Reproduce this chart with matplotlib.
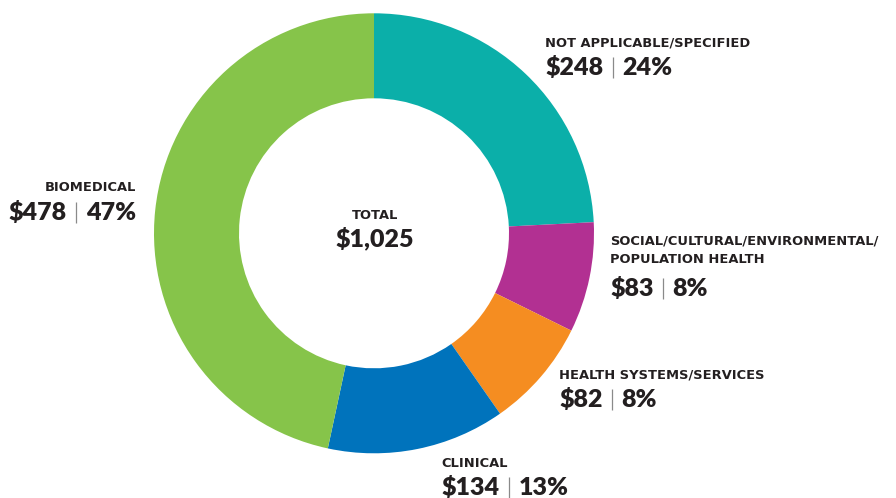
import matplotlib
matplotlib.use("Agg")
import matplotlib.pyplot as plt

# 数据
categories = ["NOT APPLICABLE/SPECIFIED",
              "SOCIAL/CULTURAL/ENVIRONMENTAL/\nPOPULATION HEALTH",
              "HEALTH SYSTEMS/SERVICES",
              "CLINICAL",
              "BIOMEDICAL"]
amounts = [248, 83, 82, 134, 478]
percents = [24, 8, 8, 13, 47]
colors = ["#0BAFA9", "#B23092", "#F58D21", "#0073BC", "#86C44A"]
total_label = "$1,025"

# 标签位置 (像素: x, 第一行基线, 数值基线, 对齐)
label_pos = [(545, 46, 75, "left"),
             (610, 244.5, 295.5, "left"),
             (559, 378.5, 406.5, "left"),
             (441.5, 466.5, 495, "left"),
             (136, 190.5, 219.5, "right")]

W, H = 896, 498
fig = plt.figure(figsize=(W / 100, H / 100), dpi=100)
ax = fig.add_axes([0, 0, 1, 1])

cx, cy, r_out, r_in = 374, 233.3, 220, 135
ax.pie(amounts, colors=colors, center=(cx, cy), radius=r_out,
       startangle=-90, counterclock=True,
       wedgeprops=dict(width=r_out - r_in, linewidth=0),
       frame=True)
ax.set_xlim(0, W)
ax.set_ylim(H, 0)  # y向下, 与像素一致
ax.set_aspect("equal")
ax.axis("off")

cap_font = ["DejaVu Sans"]      # 宽体大写标题
val_font = ["Lato", "DejaVu Sans"]  # 数值
dark = "#231F20"
cap_size = 9.4
val_size = 18

fig.canvas.draw()
rend = fig.canvas.get_renderer()


def value_line(x, y, amt, pct, ha):
    # "$248 | 24%": 分三段绘制, 中间是细灰线
    a = ax.text(0, y, f"${amt}", fontsize=val_size, fontweight="heavy",
                family=val_font, color=dark, va="baseline", ha="left")
    b = ax.text(0, y, f"{pct}%", fontsize=val_size, fontweight="heavy",
                family=val_font, color=dark, va="baseline", ha="left")
    wa = a.get_window_extent(rend).width
    wb = b.get_window_extent(rend).width
    gap = 9.5
    full = wa + 2 * gap + wb
    x0 = x if ha == "left" else x - full
    a.set_x(x0)
    b.set_x(x0 + wa + 2 * gap)
    bx = x0 + wa + gap
    ax.plot([bx, bx], [y + 3, y - 18], color="#8a8a8a", linewidth=0.9,
            solid_capstyle="butt")


for cat, amt, pct, (x, y1, y2, ha) in zip(categories, amounts, percents, label_pos):
    lines = cat.split("\n")
    for i, line in enumerate(lines):
        ax.text(x, y1 + i * 18, line, fontsize=cap_size, fontweight="bold",
                family=cap_font, color=dark, va="baseline", ha=ha)
    value_line(x, y2, amt, pct, ha)

# 中心总数
ax.text(375, 219.3, "TOTAL", fontsize=cap_size, fontweight="bold",
        family=cap_font, color=dark, va="baseline", ha="center")
ax.text(375, 246.7, total_label, fontsize=val_size, fontweight="heavy",
        family=val_font, color=dark, va="baseline", ha="center")

fig.savefig("out.png", dpi=100)
